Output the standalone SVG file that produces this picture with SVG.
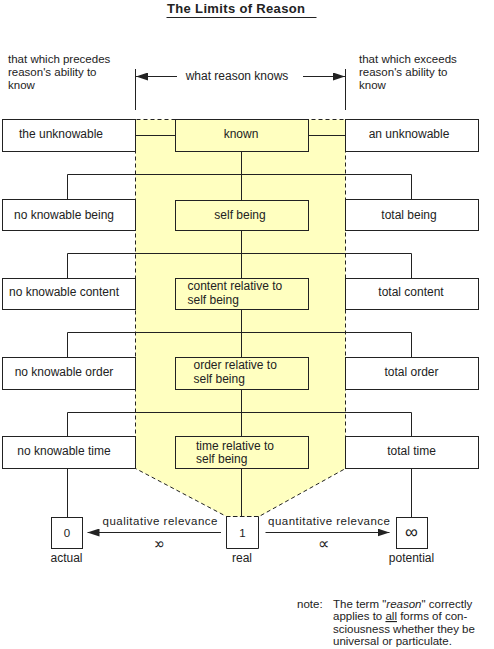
<svg xmlns="http://www.w3.org/2000/svg" width="494" height="649" viewBox="0 0 494 649">
<defs>
<marker id="ah" viewBox="0 0 12 8" refX="12" refY="4" markerWidth="12" markerHeight="8" orient="auto" markerUnits="userSpaceOnUse">
<path d="M0,0 L12,4 L0,8 z" fill="#222"/>
</marker>
</defs>
<style>
text{font-family:"Liberation Sans",Arial,sans-serif;font-size:11.5px;fill:#222}
.c{text-anchor:middle}
.b{font-size:12px}
.box{fill:#fff;stroke:#222;stroke-width:1}
.ybox{fill:#ffffc0;stroke:#222;stroke-width:1}
.ln{stroke:#222;stroke-width:1;fill:none}
.dash{stroke:#222;stroke-width:1;fill:none;stroke-dasharray:4,3}
</style>
<rect x="0" y="0" width="494" height="649" fill="#fff"/>

<g id="title">
<text x="236" y="13" class="c" style="font-weight:bold;font-size:13px" textLength="138">The Limits of Reason</text>
<line x1="166.5" y1="17.5" x2="316.5" y2="17.5" class="ln"/>
</g>

<g id="region">
<path d="M135.5,119.5 L345.5,119.5 L345.5,468.5 L259,516.5 L226.5,516.5 L135.5,468.5 Z" fill="#ffffc0"/>
<path d="M135.5,468.5 L135.5,119.5 L345.5,119.5 L345.5,468.5 L259,516.5 L226.5,516.5 Z" class="dash"/>
</g>

<g id="header-left">
<text x="8" y="63">that which precedes</text>
<text x="8" y="76">reason's ability to</text>
<text x="8" y="88.5">know</text>
</g>
<g id="header-right">
<text x="359" y="63">that which exceeds</text>
<text x="359" y="76">reason's ability to</text>
<text x="359" y="88.5">know</text>
</g>
<g id="what-reason-knows">
<line x1="135.5" y1="69" x2="135.5" y2="110" class="ln"/>
<line x1="345.5" y1="69" x2="345.5" y2="110" class="ln"/>
<text x="237" y="80" class="c b">what reason knows</text>
</g>

<g id="connectors">
<line x1="177" y1="76.5" x2="136" y2="76.5" class="ln" marker-end="url(#ah)"/>
<line x1="303" y1="76.5" x2="345" y2="76.5" class="ln" marker-end="url(#ah)"/>
<line x1="135" y1="135.5" x2="175" y2="135.5" class="ln"/>
<line x1="308" y1="135.5" x2="345" y2="135.5" class="ln"/>
<line x1="241.5" y1="151" x2="241.5" y2="516.5" class="ln"/>
<path d="M67.5,200 V174.5 H411.5 V200" class="ln"/>
<path d="M67.5,278 V253.5 H411.5 V278" class="ln"/>
<path d="M67.5,357 V332.5 H411.5 V357" class="ln"/>
<path d="M67.5,437 V412.5 H411.5 V437" class="ln"/>
<line x1="67.5" y1="468" x2="67.5" y2="517" class="ln"/>
<line x1="411.5" y1="468" x2="411.5" y2="517" class="ln"/>
<line x1="221" y1="532.5" x2="87.5" y2="532.5" class="ln" marker-end="url(#ah)"/>
<line x1="265.5" y1="532.5" x2="389.5" y2="532.5" class="ln" marker-end="url(#ah)"/>
<text x="160" y="525" class="c" textLength="115">qualitative relevance</text>
<text x="329" y="525" class="c" textLength="122">quantitative relevance</text>
<text transform="translate(159.5,548.5) scale(-1,1)" class="c" style="font-size:16px">∝</text>
<text x="323.5" y="548.5" class="c" style="font-size:16px">∝</text>
</g>

<g id="the-unknowable"><rect x="2.5" y="119.5" width="133" height="32" class="box"/><text x="61" y="137.5" class="c b">the unknowable</text></g>
<g id="known"><rect x="175.5" y="119.5" width="133" height="32" class="ybox"/><text x="241" y="137.5" class="c b">known</text></g>
<g id="an-unknowable"><rect x="345.5" y="119.5" width="133" height="32" class="box"/><text x="409" y="137.5" class="c b">an unknowable</text></g>

<g id="no-knowable-being"><rect x="2.5" y="199.5" width="133" height="31" class="box"/><text x="64" y="219" class="c b">no knowable being</text></g>
<g id="self-being"><rect x="175.5" y="200.5" width="133" height="30" class="ybox"/><text x="240" y="219" class="c b">self being</text></g>
<g id="total-being"><rect x="345.5" y="199.5" width="133" height="31" class="box"/><text x="409" y="219" class="c b">total being</text></g>

<g id="no-knowable-content"><rect x="2.5" y="278.5" width="133" height="31" class="box"/><text x="64" y="296" class="c b">no knowable content</text></g>
<g id="content-relative"><rect x="175.5" y="278.5" width="133" height="31" class="ybox"/><text x="187.5" y="290" class="b">content relative to</text><text x="187.5" y="303.5" class="b">self being</text></g>
<g id="total-content"><rect x="345.5" y="278.5" width="133" height="31" class="box"/><text x="411" y="296" class="c b">total content</text></g>

<g id="no-knowable-order"><rect x="2.5" y="357.5" width="133" height="32" class="box"/><text x="64" y="376" class="c b">no knowable order</text></g>
<g id="order-relative"><rect x="175.5" y="357.5" width="133" height="32" class="ybox"/><text x="193.5" y="369" class="b">order relative to</text><text x="193.5" y="382.5" class="b">self being</text></g>
<g id="total-order"><rect x="345.5" y="357.5" width="133" height="32" class="box"/><text x="411.5" y="376" class="c b">total order</text></g>

<g id="no-knowable-time"><rect x="2.5" y="436.5" width="133" height="32" class="box"/><text x="64" y="454.5" class="c b">no knowable time</text></g>
<g id="time-relative"><rect x="175.5" y="436.5" width="133" height="32" class="ybox"/><text x="196" y="449.5" class="b">time relative to</text><text x="196" y="462.5" class="b">self being</text></g>
<g id="total-time"><rect x="345.5" y="436.5" width="133" height="32" class="box"/><text x="411.5" y="454.5" class="c b">total time</text></g>

<g id="actual"><rect x="51.5" y="517.5" width="31" height="31" class="box"/><text x="67" y="536.5" class="c">0</text><text x="66.5" y="562" class="c b">actual</text></g>
<g id="real"><path d="M226.5,516.5 V548.5 H258.5 V516.5" class="ln" fill="#fff"/><line x1="226.5" y1="516.5" x2="258.5" y2="516.5" class="dash"/><text x="242.5" y="536.5" class="c">1</text><text x="242" y="562" class="c b">real</text></g>
<g id="potential"><rect x="396.5" y="517.5" width="31" height="31" class="box"/><text x="411.5" y="538" class="c" style="font-size:18px">∞</text><text x="411.5" y="562" class="c b">potential</text></g>

<g id="note">
<text x="297" y="607.5">note:</text>
<text x="333" y="607.5">The term "<tspan font-style="italic">reason</tspan>" correctly</text>
<text x="333" y="620">applies to <tspan text-decoration="underline">all</tspan> forms of con-</text>
<text x="333" y="632.5">sciousness whether they be</text>
<text x="333" y="645">universal or particulate.</text>
</g>
</svg>
